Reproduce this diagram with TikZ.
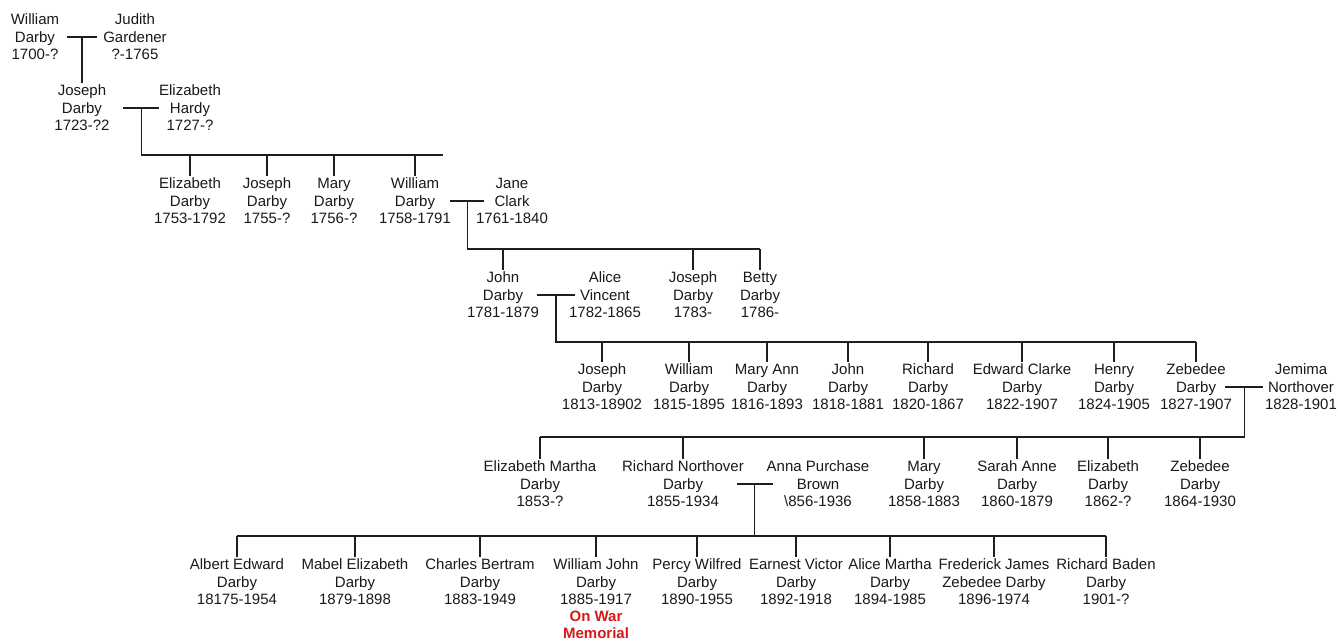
\documentclass[tikz,border=0pt]{standalone}
\usepackage{fontspec}
\setmainfont{Liberation Sans}
\usepackage{tikz}
\usetikzlibrary{positioning, calc}
\definecolor{memred}{RGB}{215, 25, 25}
\definecolor{treeline}{RGB}{30, 30, 30}

\tikzset{
    person/.style={align=center, inner sep=2pt, text=black!90, font=\fontsize{15}{17.5}\selectfont},
    memo/.style={align=center, inner sep=1pt, text=memred, font=\fontsize{15}{17}\selectfont\bfseries},
    famline/.style={line width=1.6pt, treeline},
}

\begin{document}
\begin{tikzpicture}[x=1pt, y=-1pt]
    \useasboundingbox (0,0) rectangle (1338,641);

    % Generation 0
    \node[person] (wd0) at (35,37) {William\\Darby\\1700-?};
    \node[person] (jg) at (135,37) {Judith\\Gardener\\?-1765};

    % Generation 1
    \node[person] (jd1) at (82,108) {Joseph\\Darby\\1723-?2};
    \node[person] (eh) at (190,108) {Elizabeth\\Hardy\\1727-?};

    % Generation 2
    \node[person] (ed2) at (190,201) {Elizabeth\\Darby\\1753-1792};
    \node[person] (jd2) at (267,201) {Joseph\\Darby\\1755-?};
    \node[person] (md2) at (334,201) {Mary\\Darby\\1756-?};
    \node[person] (wd2) at (415,201) {William\\Darby\\1758-1791};
    \node[person] (jc) at (512,201) {Jane\\Clark\\1761-1840};

    % Generation 3
    \node[person] (jd3) at (503,295) {John\\Darby\\1781-1879};
    \node[person] (av) at (605,295) {Alice\\Vincent\\1782-1865};
    \node[person] (josd3) at (693,295) {Joseph\\Darby\\1783-};
    \node[person] (bd3) at (760,295) {Betty\\Darby\\1786-};

    % Generation 4
    \node[person] (josd4) at (602,387) {Joseph\\Darby\\1813-18902};
    \node[person] (wd4) at (689,387) {William\\Darby\\1815-1895};
    \node[person] (mad4) at (767,387) {Mary Ann\\Darby\\1816-1893};
    \node[person] (jnd4) at (848,387) {John\\Darby\\1818-1881};
    \node[person] (rd4) at (928,387) {Richard\\Darby\\1820-1867};
    \node[person] (ecd4) at (1022,387) {Edward Clarke\\Darby\\1822-1907};
    \node[person] (hd4) at (1114,387) {Henry\\Darby\\1824-1905};
    \node[person] (zd4) at (1196,387) {Zebedee\\Darby\\1827-1907};
    \node[person] (jn) at (1301,387) {Jemima\\Northover\\1828-1901};

    % Generation 5
    \node[person] (emd5) at (540,484) {Elizabeth Martha\\Darby\\1853-?};
    \node[person] (rnd5) at (683,484) {Richard Northover\\Darby\\1855-1934};
    \node[person] (apb) at (818,484) {Anna Purchase\\Brown\\\textbackslash856-1936};
    \node[person] (myd5) at (924,484) {Mary\\Darby\\1858-1883};
    \node[person] (sad5) at (1017,484) {Sarah Anne\\Darby\\1860-1879};
    \node[person] (ezd5) at (1108,484) {Elizabeth\\Darby\\1862-?};
    \node[person] (zd5) at (1200,484) {Zebedee\\Darby\\1864-1930};

    % Generation 6
    \node[person] (aed) at (237,582) {Albert Edward\\Darby\\18175-1954};
    \node[person] (med) at (355,582) {Mabel Elizabeth\\Darby\\1879-1898};
    \node[person] (cbd) at (480,582) {Charles Bertram\\Darby\\1883-1949};
    \node[person] (wjd) at (596,582) {William John\\Darby\\1885-1917};
    \node[memo, below=3pt of wjd] (memorial) {On War\\Memorial};
    \node[person] (pwd) at (697,582) {Percy Wilfred\\Darby\\1890-1955};
    \node[person] (evd) at (796,582) {Earnest Victor\\Darby\\1892-1918};
    \node[person] (amd) at (890,582) {Alice Martha\\Darby\\1894-1985};
    \node[person] (fjzd) at (994,582) {Frederick James\\Zebedee Darby\\1896-1974};
    \node[person] (rbd) at (1106,582) {Richard Baden\\Darby\\1901-?};

    % Marriage lines
    \foreach \a/\b/\u/\r/\h in {wd0/jg/u0/0.47/15, jd1/eh/u1/0.55/18, wd2/jc/u2/0.54/17,
                                jd3/av/u3/0.52/19, zd4/jn/u4/0.46/19, rnd5/apb/u5/0.53/18} {
        \coordinate (\u) at ($(\a)!\r!(\b)$);
        \draw[famline] ([xshift=-\h pt]\u) -- ([xshift=\h pt]\u);
    }

    % Descent lines
    \draw[famline] (u0) -- (u0 |- jd1.north);

    \coordinate (end1) at (443,155);
    \draw[famline] (u1) |- (end1);
    \foreach \c in {ed2,jd2,md2,wd2}
        \draw[famline] (\c.north) -- (\c.north |- end1);

    \coordinate (bar2) at (0,249);
    \draw[famline] (u2) |- (bd3.north |- bar2);
    \foreach \c in {jd3,josd3,bd3}
        \draw[famline] (\c.north) -- (\c.north |- bar2);

    \coordinate (bar3) at (0,342);
    \draw[famline] (u3) |- (zd4.north |- bar3);
    \foreach \c in {josd4,wd4,mad4,jnd4,rd4,ecd4,hd4,zd4}
        \draw[famline] (\c.north) -- (\c.north |- bar3);

    \coordinate (bar4) at (0,437);
    \draw[famline] (u4) |- (emd5.north |- bar4);
    \foreach \c in {emd5,rnd5,myd5,sad5,ezd5,zd5}
        \draw[famline] (\c.north) -- (\c.north |- bar4);

    \coordinate (bar5) at (0,536);
    \draw[famline] (u5) -- (u5 |- bar5);
    \draw[famline] (aed.north |- bar5) -- (rbd.north |- bar5);
    \foreach \c in {aed,med,cbd,wjd,pwd,evd,amd,fjzd,rbd}
        \draw[famline] (\c.north) -- (\c.north |- bar5);
\end{tikzpicture}
\end{document}
